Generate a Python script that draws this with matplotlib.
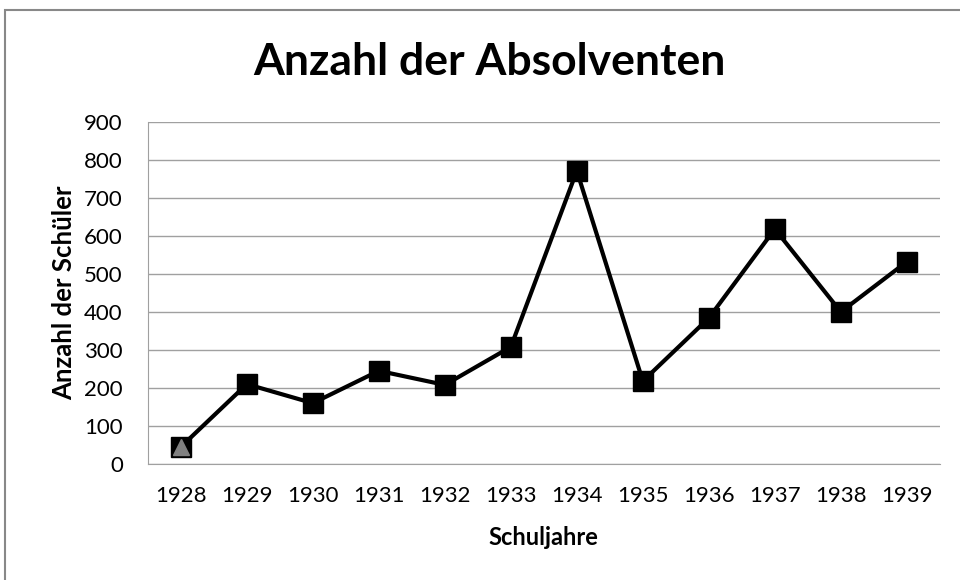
import matplotlib.pyplot as plt
from matplotlib.patches import Rectangle

years = ["1928", "1929", "1930", "1931", "1932", "1933",
         "1934", "1935", "1936", "1937", "1938", "1939"]
absolventen = [45, 210, 160, 245, 208, 308, 771, 218, 384, 618, 400, 532]
y_ticks = [0, 100, 200, 300, 400, 500, 600, 700, 800, 900]

plt.rcParams['font.family'] = ['Lato', 'DejaVu Sans']

fig = plt.figure(figsize=(9.6, 5.8), dpi=100)
fig.patches.append(Rectangle((5/960, -0.1), 1.1, 1 - 10/580 + 0.1,
                             transform=fig.transFigure, fill=False,
                             edgecolor="#888888", linewidth=1.5))
ax = fig.add_axes([0.154, 0.2, 0.825, 0.59])

x = list(range(len(years)))
ax.plot(x, absolventen, color="black", linewidth=3, marker="s",
        markersize=15, markerfacecolor="black", zorder=3)
# first point has the grey triangle on top of the square
ax.plot(x[0], absolventen[0], marker="^", markersize=12, color="#808080",
        linestyle="none", zorder=4)

ax.set_xlim(-0.5, len(years) - 0.5)
ax.set_ylim(0, 900)
ax.set_yticks(y_ticks)
ax.set_xticks(x)
ax.set_xticklabels(years)
ax.yaxis.grid(True, color="#a0a0a0", linewidth=1)
ax.set_axisbelow(True)

for s in ["top", "right"]:
    ax.spines[s].set_visible(False)
ax.spines["left"].set_color("#a0a0a0")
ax.spines["bottom"].set_color("#a0a0a0")
ax.tick_params(axis="y", length=0, labelsize=16, pad=18)
ax.tick_params(axis="x", length=0, labelsize=16, pad=16)

fig.text(489/960, 1 - 62/580, "Anzahl der Absolventen", fontsize=32,
         fontweight="bold", ha="center", va="center")
ax.set_xlabel("Schuljahre", fontsize=17, fontweight="bold", labelpad=14)
ax.set_ylabel("Anzahl der Schüler", fontsize=18.5, fontweight="bold", labelpad=6)

fig.savefig("out.png", dpi=100)
